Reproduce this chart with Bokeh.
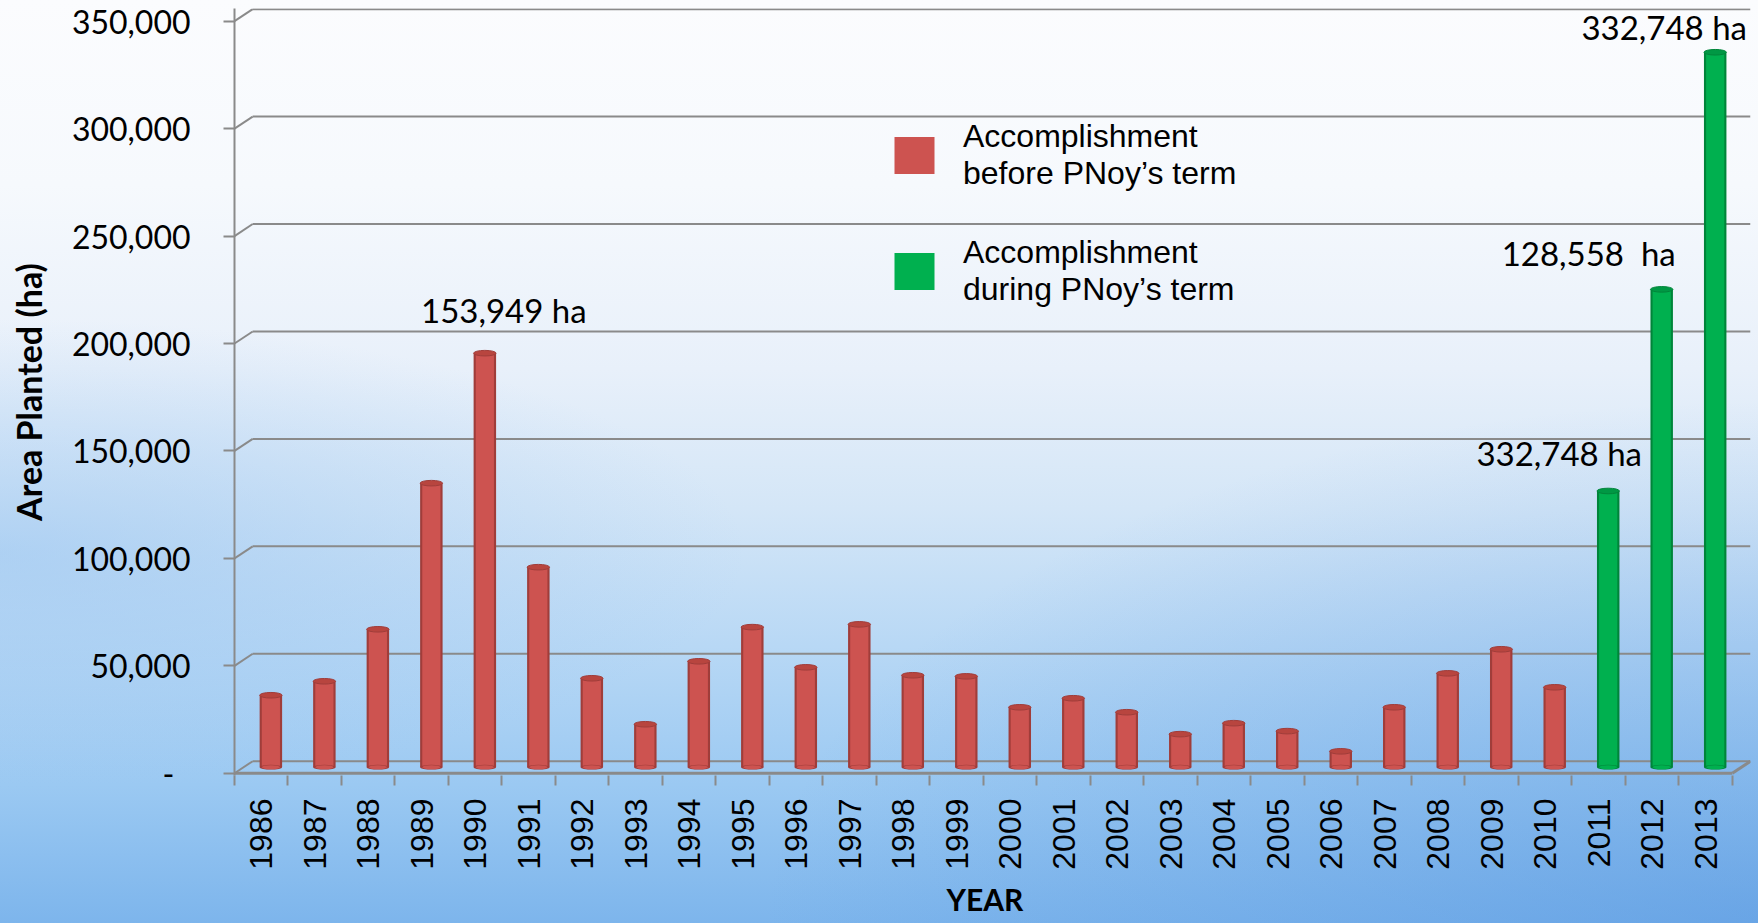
import numpy as np
from bokeh.plotting import figure
from bokeh.models import (Range1d, FixedTicker, NumeralTickFormatter, ColumnDataSource,
                          Legend, LegendItem)
from bokeh.embed import file_html
from bokeh.resources import INLINE
from bokeh.core.properties import value

# ---------------- data ----------------
years = list(range(1986, 2014))
area_planted = [33500, 40000, 64200, 132200, 192700, 93100, 41400, 20000, 49300, 65200,
                46500, 66500, 42800, 42300, 27900, 32100, 25600, 15400, 20500, 16800,
                7400, 27900, 43700, 54900, 37200, 128558, 222400, 332748]
pnoy_start = 2011
y_ticks = [0, 50000, 100000, 150000, 200000, 250000, 300000, 350000]
legend_labels = ["Accomplishment\nbefore PNoy\u2019s term", "Accomplishment\nduring PNoy\u2019s term"]
annot_years = [1990, 2011, 2012, 2013]
annot_text = ["153,949 ha", "332,748 ha", "128,558\u00a0 ha", "332,748 ha"]
annot_dx = [19, -49, -73, -51]
annot_dy = [-43, -38, -36, -25]
x_title = "YEAR\u2002"
y_title = "Area Planted (ha)"

# ---------------- 3D-look geometry (styles) ----------------
n = len(years)
DX = 0.34      # back-wall depth along x (categories)
DY = 5600      # back-wall depth along y (value units)
BX = 0.18      # bar mid-depth x shift
BY = 2800      # bar mid-depth y shift
GRID = "#8a8a8a"

p = figure(width=1758, height=923, output_backend="svg", toolbar_location=None,
           x_range=Range1d(0, n + DX), y_range=Range1d(-1050, 355911),
           min_border_left=234, min_border_right=8, min_border_top=8, min_border_bottom=148)
p.background_fill_color = None
p.border_fill_color = None
p.outline_line_color = None
p.xgrid.visible = False
p.ygrid.visible = False
p.styles = {"background": (
    "radial-gradient(ellipse at 100% 100%, rgba(80,145,222,0.45) 0%, rgba(80,145,222,0) 40%),"
    "radial-gradient(ellipse at 0% 60%, rgba(150,195,240,0.55) 0%, rgba(150,195,240,0) 30%),"
    "linear-gradient(180deg, #fbfcfe 0%, #f6f9fd 20%, #e8f0fa 40%, #d4e6f7 55%, "
    "#b8d8f5 70%, #9bc9f2 85%, #7db5ec 100%)")}

# back wall gridlines with diagonal connectors
p.segment(x0=[0] * len(y_ticks), y0=y_ticks, x1=[DX] * len(y_ticks),
          y1=[v + DY for v in y_ticks], line_color=GRID, line_width=2)
p.segment(x0=[DX] * len(y_ticks), y0=[v + DY for v in y_ticks],
          x1=[n + DX] * len(y_ticks), y1=[v + DY for v in y_ticks],
          line_color=GRID, line_width=2)
# floor front edge and right edge
p.segment(x0=[0, n], y0=[0, 0], x1=[n, n + DX], y1=[0, DY], line_color=GRID, line_width=3)

# ---------------- bars ----------------
def series(mask):
    xs = [i + 0.5 + BX for i, y in enumerate(years) if mask(y)]
    tops = [a + BY for a, y in zip(area_planted, years) if mask(y)]
    return ColumnDataSource(dict(x=xs, top=tops, bottom=[BY] * len(xs)))

src_before = series(lambda y: y < pnoy_start)
src_during = series(lambda y: y >= pnoy_start)

def cylinders(src, edge, main, cap):
    p.vbar(x="x", top="top", bottom="bottom", width=0.42, source=src,
           fill_color=edge, line_color=None)
    r = p.vbar(x="x", top="top", bottom="bottom", width=0.34, source=src,
               fill_color=main, line_color=None)
    p.ellipse(x="x", y="bottom", width=0.42, height=2200, source=src,
              fill_color=edge, line_color=None)
    p.ellipse(x="x", y="bottom", width=0.34, height=1900, source=src,
              fill_color=main, line_color=None)
    p.ellipse(x="x", y="top", width=0.42, height=2600, source=src,
              fill_color=cap, line_color=edge, line_width=1)
    return r

r_before = cylinders(src_before, "#A03D3A", "#CD5350", "#B8453F")
r_during = cylinders(src_during, "#00853A", "#00B04F", "#009844")

# ---------------- annotations ----------------
ann = ColumnDataSource(dict(
    x=[years.index(y) + 0.5 + BX for y in annot_years],
    y=[area_planted[years.index(y)] + BY for y in annot_years],
    text=annot_text, xo=annot_dx, yo=annot_dy))
p.text(x="x", y="y", text="text", x_offset="xo", y_offset="yo", source=ann,
       text_font=value("Lato"), text_font_size=value("33px"), text_color="black",
       text_align="center", text_baseline="alphabetic")

# ---------------- legend ----------------
legend = Legend(items=[LegendItem(label=legend_labels[0], renderers=[r_before]),
                       LegendItem(label=legend_labels[1], renderers=[r_during])],
                location=(655, 467), orientation="vertical",
                glyph_width=50, glyph_height=46, label_standoff=24, spacing=42,
                padding=0, margin=0, border_line_color=None, background_fill_alpha=0,
                label_text_font="Liberation Sans", label_text_font_size="32px",
                label_text_line_height=1.2, label_text_color="black")
p.add_layout(legend)

# ---------------- axes ----------------
ya = p.yaxis[0]
ya.ticker = FixedTicker(ticks=y_ticks)
ya.formatter = NumeralTickFormatter(format="0,0")
ya.major_label_overrides = {0: "-\u2002"}
ya.axis_line_color = GRID
ya.axis_line_width = 2
ya.major_tick_line_color = GRID
ya.major_tick_line_width = 2
ya.major_tick_out = 11
ya.major_tick_in = 0
ya.minor_tick_line_color = None
ya.major_label_standoff = 33
ya.major_label_text_font = "Lato"
ya.major_label_text_font_size = "32px"
ya.major_label_text_color = "black"
ya.axis_label = y_title
ya.axis_label_text_font = "Lato"
ya.axis_label_text_font_style = "bold"
ya.axis_label_text_font_size = "34px"
ya.axis_label_text_color = "black"
ya.axis_label_standoff = 20

centers = [i + 0.5 for i in range(n)]
xa = p.xaxis[0]
xa.ticker = FixedTicker(ticks=centers, minor_ticks=list(range(n + 1)))
xa.major_label_overrides = {c: str(y) for c, y in zip(centers, years)}
xa.major_label_orientation = np.pi / 2
xa.axis_line_color = None
xa.major_tick_line_color = None
xa.major_tick_out = 0
xa.major_tick_in = 0
xa.minor_tick_line_color = GRID
xa.minor_tick_line_width = 2
xa.minor_tick_out = 10
xa.minor_tick_in = 0
xa.major_label_standoff = 13
xa.major_label_text_font = "Liberation Sans"
xa.major_label_text_font_size = "32px"
xa.major_label_text_color = "black"
xa.axis_label = x_title
xa.axis_label_text_font = "Lato"
xa.axis_label_text_font_style = "bold"
xa.axis_label_text_font_size = "30px"
xa.axis_label_text_color = "black"
xa.axis_label_standoff = 8

open("out.html", "w").write(file_html(p, INLINE))
